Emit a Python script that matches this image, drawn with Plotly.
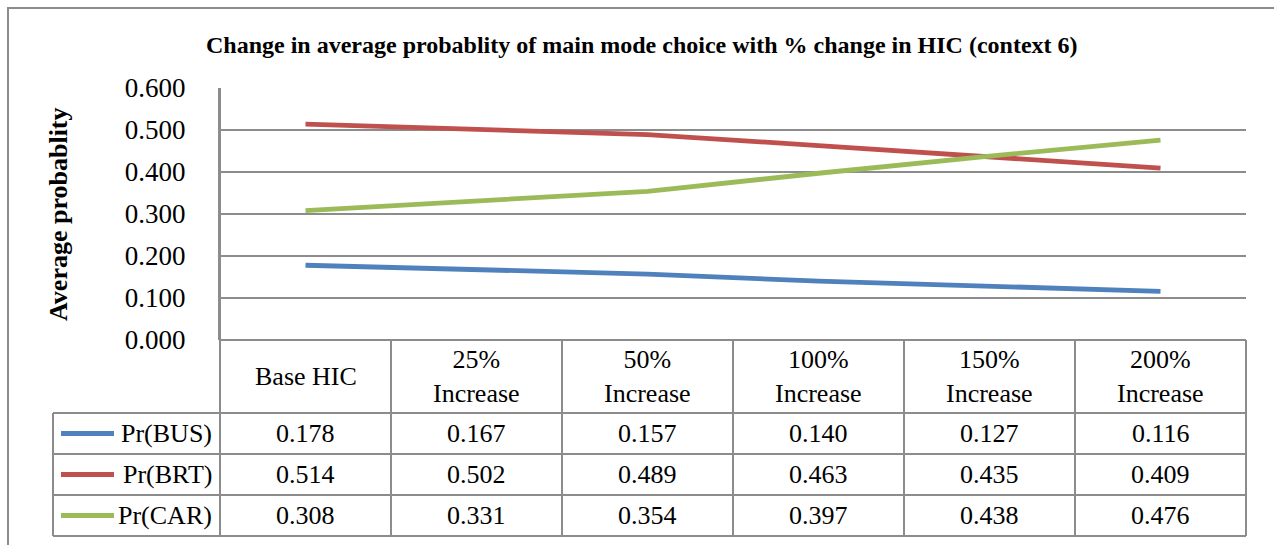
import plotly.graph_objects as go

categories = ["Base HIC", "25%<br>Increase", "50%<br>Increase", "100%<br>Increase", "150%<br>Increase", "200%<br>Increase"]
series_names = ["Pr(BUS)", "Pr(BRT)", "Pr(CAR)"]
bus = [0.178, 0.167, 0.157, 0.140, 0.127, 0.116]
brt = [0.514, 0.502, 0.489, 0.463, 0.435, 0.409]
car = [0.308, 0.331, 0.354, 0.397, 0.438, 0.476]
colors = ["#4F81BD", "#C0504D", "#9BBB59"]
title = "Change in average probablity of main mode choice with % change in HIC (context 6)"
ytitle = "Average probablity"

W, H = 1274, 545
PL, PR, PT, PB = 220, 1246, 88, 340   # plot area px
HEAD_B = 413
ROW_H = 41
LEG_L = 53
GRID = "#8C8C8C"
FONT = "Liberation Serif"
TS = 26  # table font size

def px(x):
    return x / W
def py(y):
    return 1 - y / H

fig = go.Figure()
series = [bus, brt, car]
xs = list(range(len(categories)))
for name, vals, c in zip(series_names, series, colors):
    fig.add_trace(go.Scatter(x=xs, y=vals, mode="lines", name=name,
                             line=dict(color=c, width=4.8), showlegend=False,
                             hoverinfo="x+y"))

shapes = []
annots = []
shapes.append(dict(type="rect", xref="paper", yref="paper", x0=px(8), x1=px(1290), y0=py(560), y1=py(8),
                   line=dict(color=GRID, width=2)))
ncol = len(categories)
colw = (PR - PL) / ncol
shapes.append(dict(type="line", xref="paper", yref="paper", x0=px(PL), x1=px(PR), y0=py(PB), y1=py(PB),
                   line=dict(color=GRID, width=2)))
for i in range(len(series) + 1):
    yy = HEAD_B + i * ROW_H
    shapes.append(dict(type="line", xref="paper", yref="paper", x0=px(LEG_L), x1=px(PR), y0=py(yy), y1=py(yy),
                       line=dict(color=GRID, width=2)))
bottom = HEAD_B + len(series) * ROW_H
for j in range(ncol + 1):
    xx = PL + j * colw
    shapes.append(dict(type="line", xref="paper", yref="paper", x0=px(xx), x1=px(xx), y0=py(PT if j == 0 else PB), y1=py(bottom),
                       line=dict(color=GRID, width=2)))
shapes.append(dict(type="line", xref="paper", yref="paper", x0=px(LEG_L), x1=px(LEG_L), y0=py(HEAD_B), y1=py(bottom),
                   line=dict(color=GRID, width=2)))

for j, cat in enumerate(categories):
    annots.append(dict(xref="paper", yref="paper", x=px(PL + (j + 0.5) * colw), y=py((PB + HEAD_B) / 2),
                       text=cat, showarrow=False, font=dict(family=FONT, size=TS, color="#000"),
                       xanchor="center", yanchor="middle"))
for i, (name, vals, c) in enumerate(zip(series_names, series, colors)):
    yc = HEAD_B + (i + 0.5) * ROW_H
    shapes.append(dict(type="line", xref="paper", yref="paper", x0=px(61), x1=px(114), y0=py(yc), y1=py(yc),
                       line=dict(color=c, width=4.8)))
    annots.append(dict(xref="paper", yref="paper", x=px(214), y=py(yc), text=name, showarrow=False,
                       font=dict(family=FONT, size=TS, color="#000"), xanchor="right", yanchor="middle"))
    for j, v in enumerate(vals):
        annots.append(dict(xref="paper", yref="paper", x=px(PL + (j + 0.5) * colw), y=py(yc),
                           text=f"{v:.3f}", showarrow=False, font=dict(family=FONT, size=TS, color="#000"),
                           xanchor="center", yanchor="middle"))

annots.append(dict(xref="paper", yref="paper", x=px(58), y=py((PT + PB) / 2), text=ytitle, textangle=-90,
                   showarrow=False, font=dict(family=FONT, size=26, color="#000", weight="bold"),
                   xanchor="center", yanchor="middle"))
annots.append(dict(xref="paper", yref="paper", x=px(642), y=py(45), text=title, showarrow=False,
                   font=dict(family=FONT, size=24, color="#000", weight="bold"),
                   xanchor="center", yanchor="middle"))

fig.update_layout(
    template="none",
    width=W, height=H, margin=dict(l=0, r=0, t=0, b=0, pad=0, autoexpand=False),
    paper_bgcolor="white", plot_bgcolor="white",
    shapes=shapes, annotations=annots, showlegend=False,
    xaxis=dict(domain=[px(PL), px(PR)], range=[-0.5, ncol - 0.5], showgrid=False, showticklabels=False,
               zeroline=False, showline=False, fixedrange=True, automargin=False, ticks=""),
    yaxis=dict(domain=[py(PB), py(PT)], range=[0, 0.6], dtick=0.1, tickformat=".3f", showgrid=True,
               gridcolor=GRID, gridwidth=1.5, zeroline=False, showline=True, linecolor=GRID, linewidth=2,
               ticks="", ticklabelstandoff=27, automargin=False,
               tickfont=dict(family=FONT, size=27, color="#000"), fixedrange=True),
)
fig.write_html("out.html", config={"displayModeBar": False})
with open("out.html", encoding="utf-8") as f:
    html = f.read()
html = html.replace("<head>", "<head><style>html,body{margin:0;padding:0;overflow:hidden;}</style>", 1)
with open("out.html", "w", encoding="utf-8") as f:
    f.write(html)
